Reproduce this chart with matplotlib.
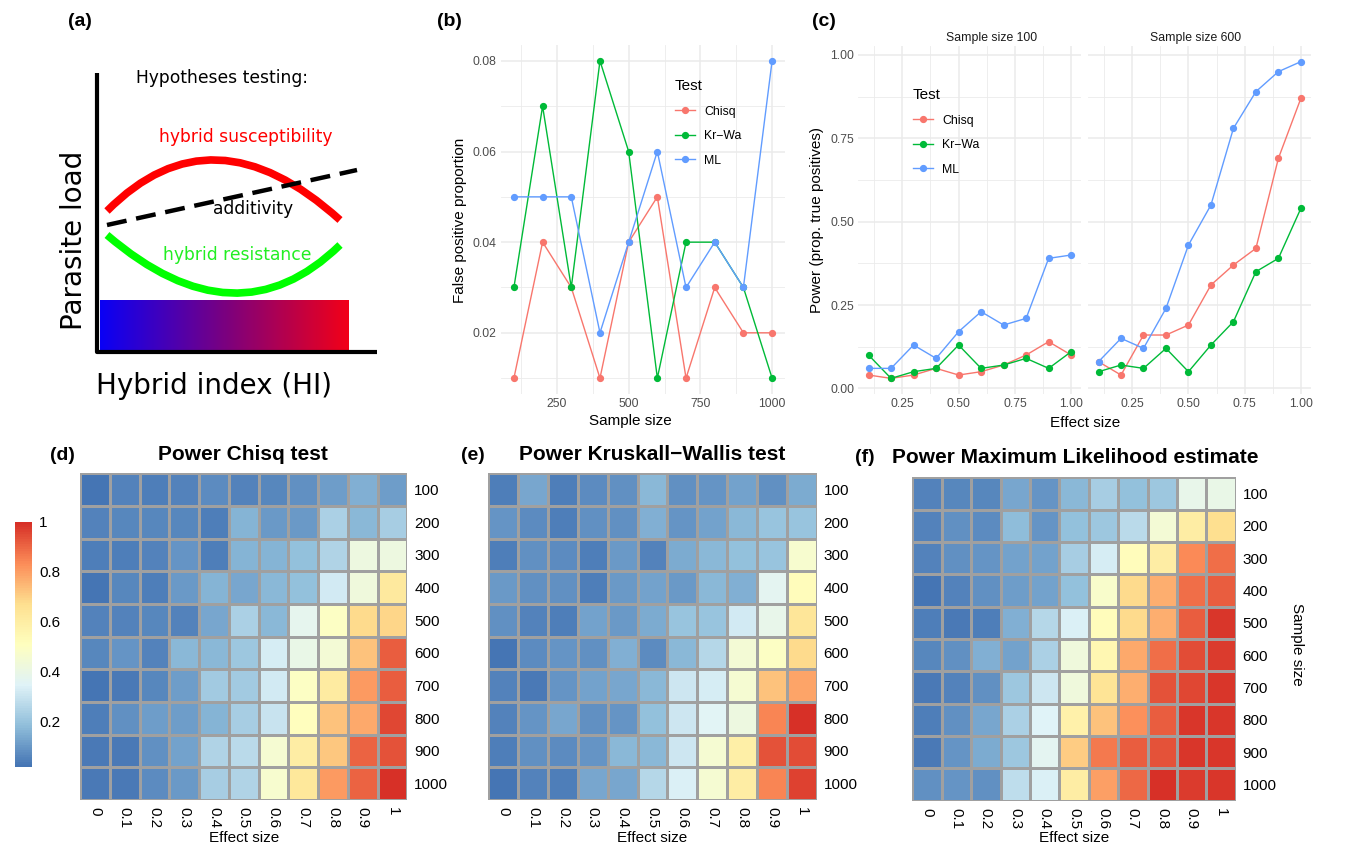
import numpy as np
import matplotlib
matplotlib.use("Agg")
import matplotlib.pyplot as plt
from matplotlib.colors import LinearSegmentedColormap, Normalize
from matplotlib.path import Path
from matplotlib.patches import PathPatch

# ---------------- data ----------------
sample_sizes = [100, 200, 300, 400, 500, 600, 700, 800, 900, 1000]
effect_sizes = [0.1, 0.2, 0.3, 0.4, 0.5, 0.6, 0.7, 0.8, 0.9, 1.0]
effect_labels = ["0", "0.1", "0.2", "0.3", "0.4", "0.5", "0.6", "0.7", "0.8", "0.9", "1"]
tests = ["Chisq", "Kr\u2212Wa", "ML"]
test_colors = ["#F8766D", "#00BA38", "#619CFF"]

# false positive proportion (effect size 0)
fp_chisq = [0.01, 0.04, 0.03, 0.01, 0.04, 0.05, 0.01, 0.03, 0.02, 0.02]
fp_krwa = [0.03, 0.07, 0.03, 0.08, 0.06, 0.01, 0.04, 0.04, 0.03, 0.01]
fp_ml = [0.05, 0.05, 0.05, 0.02, 0.04, 0.06, 0.03, 0.04, 0.03, 0.08]

# power: rows = sample sizes, cols = effect sizes 0.1..1.0
power_chisq = [
    [0.04, 0.03, 0.04, 0.06, 0.04, 0.05, 0.07, 0.10, 0.14, 0.10],
    [0.05, 0.05, 0.05, 0.03, 0.15, 0.09, 0.09, 0.22, 0.16, 0.21],
    [0.03, 0.04, 0.08, 0.03, 0.15, 0.15, 0.17, 0.23, 0.39, 0.39],
    [0.05, 0.03, 0.09, 0.15, 0.12, 0.16, 0.17, 0.30, 0.40, 0.59],
    [0.04, 0.05, 0.04, 0.12, 0.22, 0.16, 0.35, 0.47, 0.64, 0.65],
    [0.08, 0.04, 0.16, 0.16, 0.19, 0.31, 0.37, 0.42, 0.69, 0.87],
    [0.02, 0.05, 0.10, 0.20, 0.20, 0.30, 0.47, 0.58, 0.77, 0.87],
    [0.07, 0.10, 0.10, 0.15, 0.21, 0.28, 0.48, 0.69, 0.74, 0.91],
    [0.02, 0.07, 0.11, 0.23, 0.25, 0.43, 0.57, 0.68, 0.86, 0.89],
    [0.02, 0.06, 0.09, 0.21, 0.23, 0.44, 0.60, 0.77, 0.86, 0.95],
]
power_krwa = [
    [0.10, 0.03, 0.05, 0.06, 0.13, 0.06, 0.07, 0.09, 0.06, 0.11],
    [0.05, 0.03, 0.06, 0.06, 0.12, 0.07, 0.09, 0.13, 0.16, 0.16],
    [0.06, 0.05, 0.03, 0.08, 0.04, 0.11, 0.13, 0.15, 0.16, 0.37],
    [0.06, 0.06, 0.03, 0.08, 0.09, 0.08, 0.13, 0.12, 0.29, 0.42],
    [0.04, 0.03, 0.09, 0.08, 0.11, 0.16, 0.16, 0.25, 0.31, 0.51],
    [0.05, 0.07, 0.06, 0.12, 0.05, 0.13, 0.20, 0.35, 0.39, 0.54],
    [0.02, 0.07, 0.09, 0.10, 0.13, 0.24, 0.26, 0.36, 0.58, 0.63],
    [0.07, 0.10, 0.06, 0.07, 0.15, 0.24, 0.28, 0.33, 0.68, 0.80],
    [0.06, 0.05, 0.07, 0.13, 0.13, 0.24, 0.36, 0.47, 0.75, 0.76],
    [0.04, 0.03, 0.10, 0.10, 0.20, 0.27, 0.36, 0.48, 0.68, 0.77],
]
power_ml = [
    [0.06, 0.06, 0.13, 0.09, 0.17, 0.23, 0.19, 0.21, 0.39, 0.40],
    [0.08, 0.07, 0.18, 0.09, 0.19, 0.21, 0.27, 0.45, 0.60, 0.67],
    [0.08, 0.09, 0.12, 0.12, 0.23, 0.33, 0.52, 0.60, 0.84, 0.89],
    [0.05, 0.08, 0.11, 0.12, 0.19, 0.48, 0.68, 0.77, 0.89, 0.92],
    [0.03, 0.04, 0.15, 0.26, 0.34, 0.52, 0.68, 0.77, 0.92, 0.99],
    [0.08, 0.15, 0.12, 0.24, 0.43, 0.55, 0.78, 0.89, 0.95, 0.98],
    [0.05, 0.08, 0.21, 0.31, 0.43, 0.65, 0.77, 0.94, 0.96, 0.99],
    [0.08, 0.13, 0.24, 0.35, 0.58, 0.73, 0.83, 0.92, 0.99, 0.99],
    [0.09, 0.14, 0.21, 0.37, 0.71, 0.87, 0.92, 0.94, 0.99, 0.99],
    [0.09, 0.08, 0.28, 0.34, 0.60, 0.80, 0.90, 1.00, 0.98, 0.99],
]
facet_sizes = [100, 600]

# schematic (panel a), in pixel units of the sketch
sketch_axis_x = [97, 97, 377]
sketch_axis_y = [73, 352, 352]
susceptibility_curve = [(107, 211), (212.5, 104.5), (340, 220)]
resistance_curve = [(107, 235), (236.5, 346), (340, 245)]
additivity_line = [(107, 225), (357, 170)]
hi_bar = (100, 349, 300, 350)

# ---------------- figure ----------------
W, H = 1357, 849
fig = plt.figure(figsize=(W / 100, H / 100), dpi=100)
SANS = ["Liberation Sans", "DejaVu Sans"]
plt.rcParams["font.family"] = SANS


def add_ax(l, t, r, b):
    return fig.add_axes([l / W, 1 - b / H, (r - l) / W, (b - t) / H])


def ftext(x, y, s, **kw):
    kw.setdefault("ha", "center")
    kw.setdefault("va", "center")
    return fig.text(x / W, 1 - y / H, s, **kw)


# ---------------- panel (a) ----------------
ax_a = add_ax(0, 0, 400, 420)
ax_a.axis("off")
bluered = LinearSegmentedColormap.from_list("br", ["#0A00F5", "#7A0080", "#F20018"])
l, r, t, b = hi_bar
ax_a.imshow(np.linspace(0, 1, 256)[None, :], extent=[l, r, b, t], cmap=bluered, aspect="auto")
ax_a.set_xlim(0, 400)
ax_a.set_ylim(420, 0)
ax_a.plot(sketch_axis_x, sketch_axis_y, color="black", lw=3, solid_capstyle="butt")
for pts, col in [(susceptibility_curve, "#FF0000"), (resistance_curve, "#00FF00")]:
    path = Path(pts, [Path.MOVETO, Path.CURVE3, Path.CURVE3])
    ax_a.add_patch(PathPatch(path, fill=False, edgecolor=col, lw=5.5, capstyle="butt"))
ax_a.plot([p[0] for p in additivity_line], [p[1] for p in additivity_line],
          color="black", lw=3.2, dashes=(4.5, 2.2), solid_capstyle="butt")
DJ = ["DejaVu Sans"]
ax_a.text(222.5, 78, "Hypotheses testing:", ha="center", va="center", fontsize=12.3, family=DJ)
ax_a.text(245.5, 137.5, "hybrid susceptibility", ha="center", va="center", fontsize=12.3,
          color="#FF0000", family=DJ)
ax_a.text(253, 209.5, "additivity", ha="center", va="center", fontsize=12.3, family=DJ)
ax_a.text(237, 255.5, "hybrid resistance", ha="center", va="center", fontsize=12.3,
          color="#22EE22", family=DJ)
ax_a.text(74, 240, "Parasite load", rotation=90, ha="center", va="center", fontsize=20, family=DJ)
ax_a.text(214, 386, "Hybrid index (HI)", ha="center", va="center", fontsize=20, family=DJ)

# panel letters
for s, x, y in [("(a)", 80, 21), ("(b)", 449, 21), ("(c)", 824, 22),
                ("(d)", 62, 455), ("(e)", 473, 455), ("(f)", 865, 457)]:
    ftext(x, y, s, fontsize=14, fontweight="bold")

GRID = "#EBEBEB"
TICKC = "#4D4D4D"


def style_minimal(ax):
    for sp in ax.spines.values():
        sp.set_visible(False)
    ax.set_facecolor("white")
    ax.grid(which="major", color=GRID, lw=1.1)
    ax.grid(which="minor", color=GRID, lw=0.6)
    ax.set_axisbelow(True)
    ax.tick_params(which="both", length=0, labelsize=8.8, labelcolor=TICKC, pad=3)


LEG_KW = dict(loc="upper left", bbox_transform=fig.transFigure, frameon=False, borderpad=0,
              title="Test", title_fontsize=11, fontsize=8.8, handlelength=1.6,
              handletextpad=0.8, labelspacing=1.02, alignment="left")

# ---------------- panel (b) ----------------
ax_b = add_ax(501, 45, 785, 394)
style_minimal(ax_b)
for name, col, vals in zip(tests, test_colors, [fp_chisq, fp_krwa, fp_ml]):
    ax_b.plot(sample_sizes, vals, color=col, lw=1.0, marker="o", ms=4.2, label=name)
ax_b.set_xlim(55, 1045)
ax_b.set_ylim(0.0065, 0.0835)
ax_b.set_xticks([250, 500, 750, 1000])
ax_b.set_xticks([125, 375, 625, 875], minor=True)
ax_b.set_yticks([0.02, 0.04, 0.06, 0.08])
ax_b.set_yticks([0.01, 0.03, 0.05, 0.07], minor=True)
ax_b.set_yticklabels(["0.02", "0.04", "0.06", "0.08"])
ax_b.set_xticklabels(["250", "500", "750", "1000"])
ftext(630, 421, "Sample size", fontsize=11)
ftext(460, 220, "False positive proportion", fontsize=11, rotation=90)
ax_b.legend(bbox_to_anchor=(669 / W, 1 - 73 / H), **LEG_KW)

# ---------------- panel (c) ----------------
facet_boxes = [(858.4, 45.8, 1081.3, 394.2), (1088.4, 45.8, 1311, 394.2)]
facet_title_x = [991.7, 1195.3]
for k, (fs, box) in enumerate(zip(facet_sizes, facet_boxes)):
    ax = add_ax(*box)
    style_minimal(ax)
    ri = sample_sizes.index(fs)
    for name, col, mat in zip(tests, test_colors, [power_chisq, power_krwa, power_ml]):
        ax.plot(effect_sizes, mat[ri], color=col, lw=1.0, marker="o", ms=4.2, label=name)
    ax.set_xlim(0.055, 1.045)
    ax.set_ylim(-0.0175, 1.0275)
    ax.set_xticks([0.25, 0.5, 0.75, 1.0])
    ax.set_xticklabels(["0.25", "0.50", "0.75", "1.00"])
    ax.set_xticks([0.125, 0.375, 0.625, 0.875], minor=True)
    ax.set_yticks([0, 0.25, 0.5, 0.75, 1.0])
    ax.set_yticks([0.125, 0.375, 0.625, 0.875], minor=True)
    if k == 0:
        ax.set_yticklabels(["0.00", "0.25", "0.50", "0.75", "1.00"])
        ax.legend(bbox_to_anchor=(907 / W, 1 - 82 / H), **LEG_KW)
    else:
        ax.set_yticklabels([])
    ftext(facet_title_x[k], 38.5, "Sample size %d" % fs, fontsize=8.8, color="#1A1A1A")
ftext(1085, 423, "Effect size", fontsize=11)
ftext(817, 220, "Power (prop. true positives)", fontsize=11, rotation=90)

# ---------------- heatmaps ----------------
heat_cmap = LinearSegmentedColormap.from_list(
    "rdylbu_r", ["#4575B4", "#91BFDB", "#E0F3F8", "#FFFFBF", "#FEE090", "#FC8D59", "#D73027"], N=100)


def heat_matrix(fp, power):
    return np.column_stack([np.array(fp), np.array(power)])


heat_specs = [
    ("Power Chisq test", fp_chisq, power_chisq, (80, 473.3, 407.3, 800), 243, 455),
    ("Power Kruskall\u2212Wallis test", fp_krwa, power_krwa, (488.3, 473.3, 816.7, 800), 652, 455),
    ("Power Maximum Likelihood estimate", fp_ml, power_ml, (912.3, 477.3, 1235.7, 800.7), 1075, 458),
]
heat_ranges = []
for title, fp, pw, box, tx, ty in heat_specs:
    M = heat_matrix(fp, pw)
    heat_ranges.append((M.min(), M.max()))
    ax = add_ax(*box)
    ax.pcolormesh(np.arange(M.shape[1] + 1), np.arange(M.shape[0] + 1), M, cmap=heat_cmap,
                  norm=Normalize(M.min(), M.max()), edgecolors="#A0A0A0", linewidth=1.0)
    ax.set_xlim(0, M.shape[1])
    ax.set_ylim(M.shape[0], 0)
    for sp in ax.spines.values():
        sp.set_visible(False)
    ax.yaxis.tick_right()
    ax.set_yticks(np.arange(M.shape[0]) + 0.5)
    ax.set_yticklabels([str(s) for s in sample_sizes], fontsize=11)
    ax.set_xticks(np.arange(M.shape[1]) + 0.5)
    ax.set_xticklabels(effect_labels, fontsize=11, rotation=270, va="top", ha="center")
    ax.tick_params(length=0, pad=5)
    ftext(tx, ty, title, fontsize=15, fontweight="bold")
    ftext((box[0] + box[2]) / 2, 838, "Effect size", fontsize=11)
ftext(1297, 644, "Sample size", fontsize=11, rotation=270)

# colour legend
vmin, vmax = heat_ranges[2]
ax_cb = add_ax(15, 521.7, 32, 766.7)
ax_cb.imshow(np.linspace(vmin, vmax, 200)[:, None], extent=[0, 1, vmin, vmax], origin="lower",
             aspect="auto", cmap=heat_cmap, norm=Normalize(vmin, vmax))
for sp in ax_cb.spines.values():
    sp.set_visible(False)
ax_cb.set_xticks([])
ax_cb.yaxis.tick_right()
ax_cb.set_yticks([0.2, 0.4, 0.6, 0.8, 1.0])
ax_cb.set_yticklabels(["0.2", "0.4", "0.6", "0.8", "1"], fontsize=11)
ax_cb.tick_params(length=0, pad=5)

fig.savefig("out.png", dpi=100)
